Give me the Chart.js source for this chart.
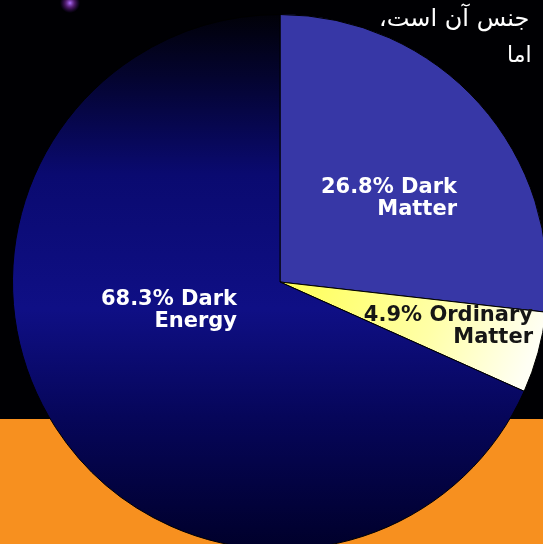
<!DOCTYPE html>
<html>
<head>
<meta charset="utf-8">
<script src="https://cdn.jsdelivr.net/npm/chart.js@4"></script>
<style>
  html, body { margin: 0; padding: 0; background: #000; overflow: hidden; }
  #wrap { position: absolute; left: 0; top: 0; width: 560px; height: 564px; }
</style>
</head>
<body>
<div id="wrap"><canvas id="chart" width="560" height="564"></canvas></div>
<script>
// data
const sliceNames = ['Dark Matter', 'Ordinary Matter', 'Dark Energy'];
const slicePercents = [26.8, 4.9, 68.3];
const sliceLabels = [
  ['26.8% Dark', 'Matter'],
  ['4.9% Ordinary', 'Matter'],
  ['68.3% Dark', 'Energy']
];
const labelColors = ['#ffffff', '#161616', '#ffffff'];
// label anchor (right edge, first line centre) relative to pie centre
const labelAnchors = [[177, -94], [253, 34], [-43, 18]];
const slideLines = ['جنس آن است،', 'اما'];

const ctx = document.getElementById('chart').getContext('2d');

function sliceFill(c) {
  const area = c.chart.chartArea;
  if (!area) return '#10108a';
  const g = c.chart.ctx;
  if (c.dataIndex === 0) return '#3737a6';
  if (c.dataIndex === 1) {
    const lg = g.createLinearGradient(area.left + 270, 285, area.left + 510, 380);
    lg.addColorStop(0, '#ffff55');
    lg.addColorStop(0.6, '#ffffa8');
    lg.addColorStop(1, '#fffff4');
    return lg;
  }
  const lg = g.createLinearGradient(0, area.top, 0, area.bottom);
  lg.addColorStop(0, '#010108');
  lg.addColorStop(0.12, '#040430');
  lg.addColorStop(0.3, '#0a0a70');
  lg.addColorStop(0.55, '#0f0f85');
  lg.addColorStop(0.75, '#06065a');
  lg.addColorStop(1, '#00002a');
  return lg;
}

const backdrop = {
  id: 'backdrop',
  beforeDraw(chart) {
    const c = chart.ctx;
    c.save();
    c.fillStyle = '#000003';
    c.fillRect(0, 0, chart.width, chart.height);
    c.fillStyle = '#f7901f';
    c.fillRect(0, 419, chart.width, chart.height - 419);
    // small purple glow top-left
    const rg = c.createRadialGradient(70, 3, 0, 70, 3, 10);
    rg.addColorStop(0, '#b070ff');
    rg.addColorStop(0.5, 'rgba(120,40,160,0.6)');
    rg.addColorStop(1, 'rgba(80,20,140,0)');
    c.fillStyle = rg;
    c.fillRect(55, 0, 30, 15);
    c.restore();
  },
  afterDraw(chart) {
    const c = chart.ctx;
    c.save();
    c.fillStyle = '#ffffff';
    c.direction = 'rtl';
    c.textAlign = 'left';
    c.textBaseline = 'middle';
    c.font = '24px "DejaVu Sans"';
    c.fillText(slideLines[0], 379, 20);
    c.font = '22px "DejaVu Sans"';
    c.fillText(slideLines[1], 507, 56);
    c.restore();
  }
};

const sliceText = {
  id: 'sliceText',
  afterDatasetsDraw(chart) {
    const c = chart.ctx;
    const arc = chart.getDatasetMeta(0).data[0];
    c.save();
    c.font = 'bold 21px "DejaVu Sans"';
    c.textAlign = 'right';
    c.textBaseline = 'middle';
    sliceLabels.forEach((lines, i) => {
      c.fillStyle = labelColors[i];
      const x = arc.x + labelAnchors[i][0];
      const y = arc.y + labelAnchors[i][1];
      lines.forEach((t, j) => c.fillText(t, x, y + j * 22));
    });
    c.restore();
  }
};

new Chart(ctx, {
  type: 'pie',
  data: {
    labels: sliceNames,
    datasets: [{
      data: slicePercents,
      backgroundColor: sliceFill,
      borderColor: '#000000',
      borderWidth: 1
    }]
  },
  options: {
    responsive: false,
    animation: false,
    layout: { padding: { left: 12, right: 12, top: 14, bottom: 14 } },
    plugins: {
      legend: { display: false },
      tooltip: { enabled: false }
    }
  },
  plugins: [backdrop, sliceText]
});
</script>
</body>
</html>
